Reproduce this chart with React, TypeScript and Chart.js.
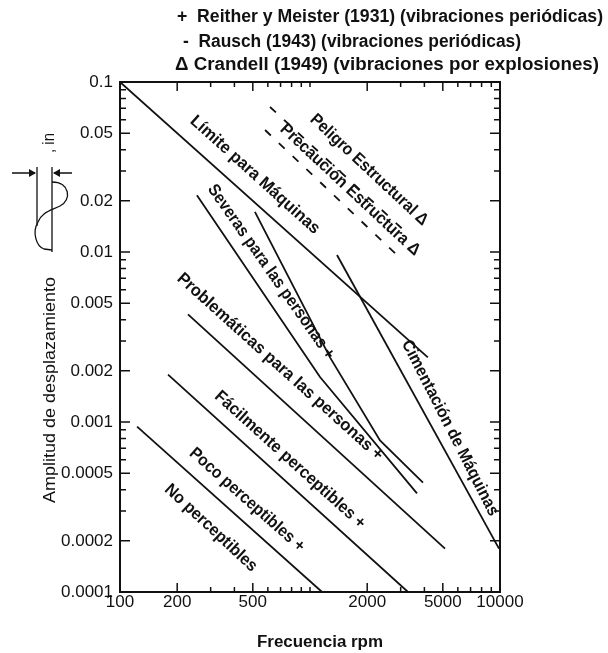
import React, { useEffect, useRef } from "react";
import { Chart, registerables } from "chart.js";
Chart.register(...registerables);

// ---- axis ticks ----
const xTickValues = [100, 200, 500, 2000, 5000, 10000];
const xTickLabels = ["100", "200", "500", "2000", "5000", "10000"];
const yTickValues = [0.0001, 0.0002, 0.0005, 0.001, 0.002, 0.005, 0.01, 0.02, 0.05, 0.1];
const yTickLabels = ["0.0001", "0.0002", "0.0005", "0.001", "0.002", "0.005", "0.01", "0.02", "0.05", "0.1"];

// ---- series (frequency rpm, amplitude in) ----
const limiteX = [100, 4170];
const limiteY = [0.1, 0.0024];
const peligroX = [616, 3240];
const peligroY = [0.0713, 0.0129];
const precaucionX = [580, 3050];
const precaucionY = [0.0522, 0.009];
const severasAX = [254, 1129, 3656];
const severasAY = [0.0216, 0.00184, 0.00038];
const severasBX = [513, 1274, 2336, 3933];
const severasBY = [0.0172, 0.0024, 0.00078, 0.00044];
const cimentacionX = [1387, 9880];
const cimentacionY = [0.0096, 0.00018];
const problematicasX = [228, 5137];
const problematicasY = [0.0043, 0.00018];
const facilmenteX = [179, 3280];
const facilmenteY = [0.0019, 0.0001];
const pocoX = [123, 1157];
const pocoY = [0.00094, 0.0001];

// ---- region labels (anchor in data coords) ----
const labelTexts = [
  "Límite para Máquinas",
  "Peligro Estructural Δ",
  "Precaución Estructura Δ",
  "Severas para las personas +",
  "Cimentación de Máquinas",
  "Problemáticas para las personas +",
  "Fácilmente perceptibles +",
  "Poco perceptibles +",
  "No perceptibles",
];
const labelX = [513, 2045, 1624, 623, 5456, 695, 785, 466, 301];
const labelY = [0.0284, 0.0304, 0.0232, 0.00763, 0.000922, 0.00211, 0.000598, 0.000348, 0.000238];
const labelAngles = [42, 43, 43, 55, 63, 42, 42, 41.5, 43];
const labelLengths = [168, 155, 185, 209, 195, 271, 197, 148, 120];

const legendLines = [
  "+  Reither y Meister (1931) (vibraciones periódicas)",
  "-  Rausch (1943) (vibraciones periódicas)",
  "Δ Crandell (1949) (vibraciones por explosiones)",
];

const FONT = "'Liberation Sans', Arial, sans-serif";
const INK = "#111";

function pts(xs: number[], ys: number[]) {
  return xs.map((x, i) => ({ x, y: ys[i] }));
}

function drawFit(
  ctx: CanvasRenderingContext2D,
  text: string,
  x: number,
  y: number,
  angleDeg: number,
  width: number,
  font: string,
  align: CanvasTextAlign = "center"
) {
  ctx.save();
  ctx.translate(x, y);
  ctx.rotate((angleDeg * Math.PI) / 180);
  ctx.font = font;
  const w = ctx.measureText(text).width;
  const sx = width > 0 ? width / w : 1;
  ctx.scale(sx, 1);
  ctx.textAlign = align;
  ctx.textBaseline = "middle";
  ctx.fillStyle = INK;
  ctx.fillText(text, 0, 0);
  ctx.restore();
}

function logSteps(min: number, max: number) {
  const out: number[] = [];
  for (let e = Math.floor(Math.log10(min)); e <= Math.ceil(Math.log10(max)); e++) {
    for (let m = 1; m <= 9; m++) {
      const v = m * Math.pow(10, e);
      if (v >= min * 0.999 && v <= max * 1.001) out.push(v);
    }
  }
  return out;
}

const isMajor = (v: number, list: number[]) => list.some((t) => Math.abs(t - v) / t < 1e-6);

const decorPlugin = {
  id: "decor",
  afterDraw(chart: any) {
    const ctx: CanvasRenderingContext2D = chart.ctx;
    const { left, right, top, bottom } = chart.chartArea;
    const xs = chart.scales.x;
    const ys = chart.scales.y;
    ctx.save();
    ctx.strokeStyle = INK;
    // frame
    ctx.lineWidth = 2;
    ctx.strokeRect(left, top, right - left, bottom - top);
    // inward ticks
    ctx.lineWidth = 1.5;
    ctx.beginPath();
    for (const v of logSteps(100, 10000)) {
      const px = xs.getPixelForValue(v);
      const len = isMajor(v, xTickValues) ? 9 : 5;
      ctx.moveTo(px, bottom);
      ctx.lineTo(px, bottom - len);
      ctx.moveTo(px, top);
      ctx.lineTo(px, top + len);
    }
    for (const v of logSteps(0.0001, 0.1)) {
      const py = ys.getPixelForValue(v);
      const len = isMajor(v, yTickValues) ? 10 : 6;
      ctx.moveTo(left, py);
      ctx.lineTo(left + len, py);
      ctx.moveTo(right, py);
      ctx.lineTo(right - len, py);
    }
    ctx.stroke();

    // region labels
    labelTexts.forEach((t, i) => {
      const px = xs.getPixelForValue(labelX[i]);
      const py = ys.getPixelForValue(labelY[i]);
      drawFit(ctx, t, px, py, labelAngles[i], labelLengths[i], `bold 17px ${FONT}`);
    });

    // legend at top
    drawFit(ctx, legendLines[0], 177, 17, 0, 426, `bold 18px ${FONT}`, "left");
    drawFit(ctx, legendLines[1], 183, 42, 0, 338, `bold 18px ${FONT}`, "left");
    drawFit(ctx, legendLines[2], 175, 65, 0, 424, `bold 18px ${FONT}`, "left");

    // axis titles
    drawFit(ctx, "Frecuencia rpm", 320, 643, 0, 126, `bold 16px ${FONT}`);
    drawFit(ctx, "Amplitud de desplazamiento", 50, 390, -90, 226, `17px ${FONT}`);
    drawFit(ctx, ", in", 49, 143, -90, 20, `17px ${FONT}`);

    // displacement icon
    ctx.lineWidth = 1.3;
    ctx.beginPath();
    ctx.moveTo(37, 167);
    ctx.lineTo(37, 226);
    ctx.moveTo(52, 167);
    ctx.lineTo(52, 252);
    ctx.moveTo(12, 173);
    ctx.lineTo(35, 173);
    ctx.moveTo(72, 173);
    ctx.lineTo(54, 173);
    ctx.stroke();
    ctx.fillStyle = INK;
    ctx.beginPath();
    ctx.moveTo(36, 173);
    ctx.lineTo(29, 169);
    ctx.lineTo(29, 177);
    ctx.closePath();
    ctx.fill();
    ctx.beginPath();
    ctx.moveTo(53, 173);
    ctx.lineTo(60, 169);
    ctx.lineTo(60, 177);
    ctx.closePath();
    ctx.fill();
    ctx.beginPath();
    ctx.moveTo(52, 182);
    ctx.bezierCurveTo(70, 182, 72, 200, 60, 206);
    ctx.bezierCurveTo(50, 211, 42, 212, 38, 222);
    ctx.bezierCurveTo(32, 232, 36, 246, 44, 249);
    ctx.lineTo(52, 250);
    ctx.stroke();
    ctx.restore();
  },
};

export default function App() {
  const ref = useRef<HTMLCanvasElement | null>(null);
  useEffect(() => {
    document.body.style.margin = "0";
    document.body.style.background = "#fff";
    const canvas = ref.current!;
    const solid = { borderColor: INK, borderWidth: 1.8, pointRadius: 0, fill: false, tension: 0 };
    const dashed = { ...solid, borderDash: [8, 11] };
    const chart = new Chart(canvas, {
      type: "line",
      data: {
        datasets: [
          { label: "Límite para Máquinas", data: pts(limiteX, limiteY), ...solid },
          { label: "Peligro Estructural", data: pts(peligroX, peligroY), ...dashed },
          { label: "Precaución Estructural", data: pts(precaucionX, precaucionY), ...dashed },
          { label: "Severas A", data: pts(severasAX, severasAY), ...solid },
          { label: "Severas B", data: pts(severasBX, severasBY), ...solid },
          { label: "Cimentación de Máquinas", data: pts(cimentacionX, cimentacionY), ...solid },
          { label: "Problemáticas", data: pts(problematicasX, problematicasY), ...solid },
          { label: "Fácilmente perceptibles", data: pts(facilmenteX, facilmenteY), ...solid },
          { label: "Poco perceptibles", data: pts(pocoX, pocoY), ...solid },
        ] as any,
      },
      options: {
        animation: false,
        responsive: false,
        maintainAspectRatio: false,
        layout: { padding: { left: 0, right: 108, top: 82, bottom: 0 } },
        plugins: { legend: { display: false }, tooltip: { enabled: false } },
        scales: {
          x: {
            type: "logarithmic",
            min: 100,
            max: 10000,
            position: "bottom",
            grid: { display: false, drawTicks: false },
            border: { display: false },
            afterBuildTicks: (s: any) => {
              s.ticks = xTickValues.map((v) => ({ value: v }));
            },
            afterFit: (s: any) => {
              s.height = 61;
            },
            ticks: {
              autoSkip: false,
              maxRotation: 0,
              minRotation: 0,
              padding: 0,
              color: INK,
              font: { family: FONT, size: 17 },
              callback: (_v: any, i: number) => xTickLabels[i] ?? "",
            },
          },
          y: {
            type: "logarithmic",
            min: 0.0001,
            max: 0.1,
            position: "left",
            grid: { display: false, drawTicks: false },
            border: { display: false },
            afterBuildTicks: (s: any) => {
              s.ticks = yTickValues.map((v) => ({ value: v }));
            },
            afterFit: (s: any) => {
              s.width = 120;
            },
            ticks: {
              autoSkip: false,
              padding: 7,
              color: INK,
              font: { family: FONT, size: 17 },
              callback: (_v: any, i: number) => yTickLabels[i] ?? "",
            },
          },
        },
      } as any,
      plugins: [decorPlugin],
    });
    return () => chart.destroy();
  }, []);
  return <canvas ref={ref} width={608} height={653} style={{ display: "block" }} />;
}
